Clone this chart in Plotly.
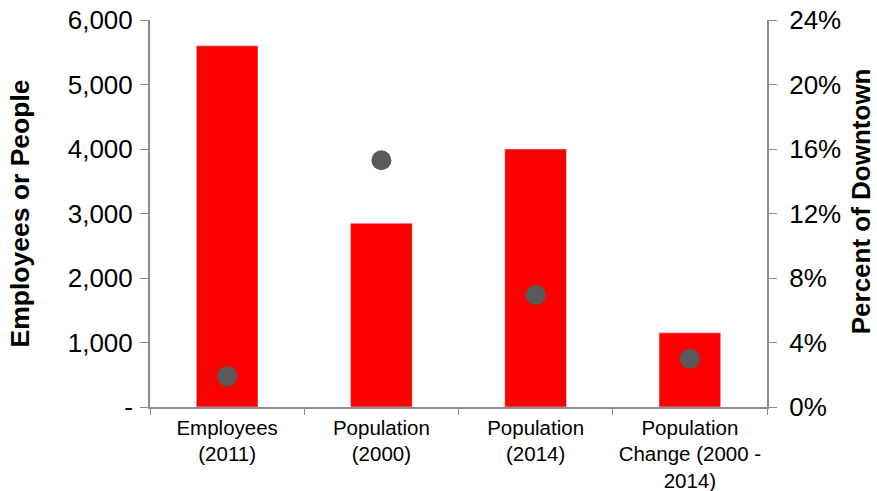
import plotly.graph_objects as go

categories = ["Employees<br>(2011)", "Population<br>(2000)", "Population<br>(2014)",
              "Population<br>Change (2000 -<br>2014)"]
counts = [5600, 2850, 4000, 1150]
pct_downtown = [0.019, 0.153, 0.0695, 0.030]

left_ticks = [0, 1000, 2000, 3000, 4000, 5000, 6000]
left_labels = ["-", "1,000", "2,000", "3,000", "4,000", "5,000", "6,000"]
right_ticks = [0, 0.04, 0.08, 0.12, 0.16, 0.20, 0.24]
right_labels = ["0%", "4%", "8%", "12%", "16%", "20%", "24%"]

FONT = "Liberation Sans, Arial, sans-serif"
AXIS_GRAY = "#8c8c8c"

fig = go.Figure()
fig.add_trace(go.Bar(x=categories, y=counts, marker_color="#FF0000",
                     width=0.4, name="Count", yaxis="y"))
fig.add_trace(go.Scatter(x=categories, y=pct_downtown, mode="markers",
                         marker=dict(color="#595959", size=20),
                         name="Percent", yaxis="y2"))

fig.update_layout(
    width=877, height=491,
    margin=dict(l=150, r=110, t=20, b=84),
    paper_bgcolor="white", plot_bgcolor="white",
    showlegend=False,
    font=dict(family=FONT, color="black"),
    xaxis=dict(
        type="category", tickson="boundaries", ticks="outside", ticklen=6,
        tickcolor=AXIS_GRAY, showline=True, linecolor=AXIS_GRAY, linewidth=2,
        showgrid=False, tickfont=dict(size=20.5, family=FONT), tickangle=0,
        automargin=False, ticklabelstandoff=1,
    ),
    yaxis=dict(
        range=[0, 6000], tickvals=left_ticks, ticktext=left_labels,
        ticks="outside", ticklen=8, tickcolor=AXIS_GRAY,
        showline=True, linecolor=AXIS_GRAY, linewidth=2,
        showgrid=False, zeroline=False, automargin=False,
        tickfont=dict(size=26, family=FONT), ticklabelstandoff=2,
        title=dict(text="<b>Employees or People</b>", font=dict(size=26.5, family=FONT),
                   standoff=30),
    ),
    yaxis2=dict(
        range=[0, 0.24], tickvals=right_ticks, ticktext=right_labels,
        overlaying="y", side="right",
        ticks="outside", ticklen=8, tickcolor=AXIS_GRAY,
        showline=True, linecolor=AXIS_GRAY, linewidth=2,
        showgrid=False, zeroline=False, automargin=False,
        tickfont=dict(size=26, family=FONT), ticklabelstandoff=7,
    ),
    annotations=[dict(
        text="<b>Percent of Downtown</b>", textangle=-90,
        xref="paper", yref="paper", x=1.152, y=0.531,
        xanchor="center", yanchor="middle", showarrow=False,
        height=28, borderpad=0,
        font=dict(size=26, family=FONT, color="black"),
    )],
)

fig.write_html("out.html")
